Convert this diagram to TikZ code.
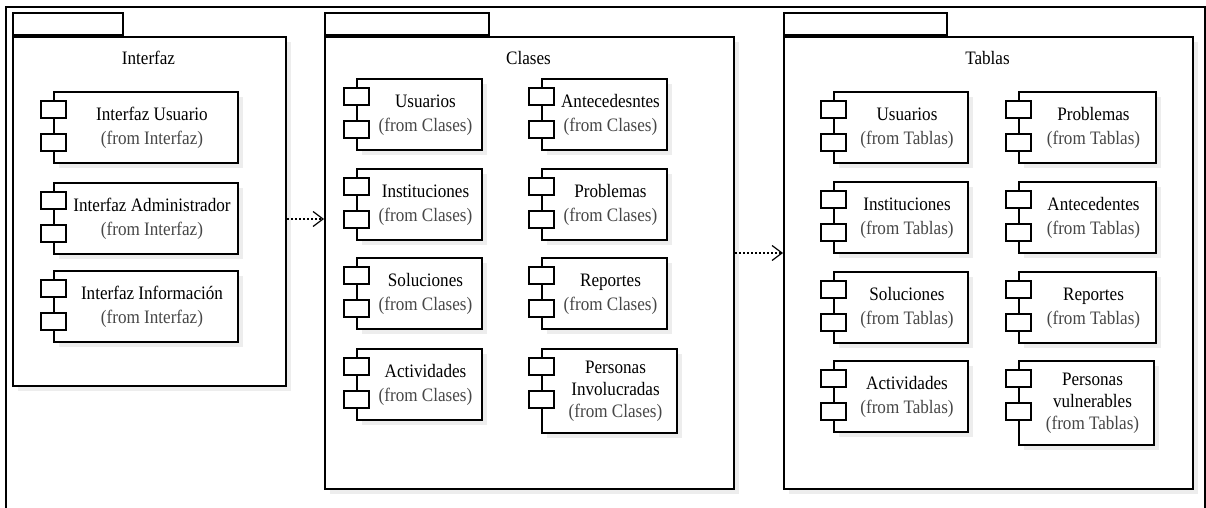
\documentclass[tikz,border=0pt]{standalone}
\usepackage{fontspec}
\usepackage{graphicx}
\setmainfont{Liberation Serif}
\usetikzlibrary{arrows.meta,shadows}

\definecolor{fromgray}{gray}{0.28}

% narrow setting of one text line
\newcommand\sq[1]{\scalebox{0.9}[1]{#1}}
\newcommand\fromp[1]{\sq{\color{fromgray}(from #1)}}

% a component: name, left, top, width, height, label lines
\newcommand\umlcomp[6]{%
  \node[compbox, minimum width=#4pt, minimum height=#5pt, anchor=north west] (#1) at (#2,#3)
    {\begin{tabular}{@{\hspace{12pt}}c@{}}#6\end{tabular}};
  \draw[port] ([shift={(-12pt,-10pt)}]#1.north west) rectangle ++(25pt,-17pt);
  \draw[port] ([shift={(-12pt,-43pt)}]#1.north west) rectangle ++(25pt,-17pt);
}

\begin{document}
\begin{tikzpicture}[x=1pt,y=-1pt,
  every node/.style={font=\fontsize{19}{24}\selectfont},
  lw/.style={line width=2pt},
  softshadow/.style={drop shadow={shadow xshift=5pt, shadow yshift=-5pt, opacity=0.07, fill=black}},
  pkgbody/.style={draw, lw, fill=white, inner sep=0pt, softshadow},
  pkgtab/.style={draw, lw, fill=white, inner sep=0pt, minimum height=22pt},
  compbox/.style={draw, lw, fill=white, inner sep=0pt, align=center, softshadow},
  port/.style={draw, lw, fill=white},
  dep/.style={line width=2pt, dotted, -{Straight Barb[length=10pt, width=15pt, line width=1.2pt]}},
  frame/.style={line width=2pt}
]
\useasboundingbox (0,0) rectangle (1206,508);

% outer frame (continues below the lower edge)
\draw[frame] (6,520) -- (6,7) -- (1205,7) -- (1205,520);

% packages
\node[pkgbody, minimum width=273pt, minimum height=349pt, anchor=north west] (ipkg) at (12,36) {};
\node[pkgtab, minimum width=110pt, anchor=south west] (itab) at (ipkg.north west) {};
\node (ititle) at (148.5,58) {\sq{Interfaz}};

\node[pkgbody, minimum width=409pt, minimum height=452pt, anchor=north west] (cpkg) at (324,36) {};
\node[pkgtab, minimum width=164pt, anchor=south west] (ctab) at (cpkg.north west) {};
\node (ctitle) at (528.5,58) {\sq{Clases}};

\node[pkgbody, minimum width=409pt, minimum height=452pt, anchor=north west] (tpkg) at (783,36) {};
\node[pkgtab, minimum width=163pt, anchor=south west] (ttab) at (tpkg.north west) {};
\node (ttitle) at (987.5,58) {\sq{Tablas}};

% Interfaz components
\umlcomp{iu}{53}{91}{184}{71}{\sq{Interfaz Usuario}\\ \fromp{Interfaz}}
\umlcomp{ia}{53}{182}{184}{71}{\sq{Interfaz Administrador}\\ \fromp{Interfaz}}
\umlcomp{ii}{53}{270}{184}{71}{\sq{Interfaz Información}\\ \fromp{Interfaz}}

% Clases components
\umlcomp{cu}{356}{78}{125}{71}{\sq{Usuarios}\\ \fromp{Clases}}
\umlcomp{ci}{356}{168}{125}{71}{\sq{Instituciones}\\ \fromp{Clases}}
\umlcomp{cs}{356}{257}{125}{71}{\sq{Soluciones}\\ \fromp{Clases}}
\umlcomp{cact}{356}{348}{125}{71}{\sq{Actividades}\\ \fromp{Clases}}
\umlcomp{cant}{541}{78}{125}{71}{\sq{Antecedesntes}\\ \fromp{Clases}}
\umlcomp{cp}{541}{168}{125}{71}{\sq{Problemas}\\ \fromp{Clases}}
\umlcomp{cr}{541}{257}{125}{71}{\sq{Reportes}\\ \fromp{Clases}}
\umlcomp{cpi}{541}{348}{135}{84}{\sq{Personas}\\[-2pt] \sq{Involucradas}\\[-2pt] \fromp{Clases}}

% Tablas components
\umlcomp{tu}{833}{91}{134}{71}{\sq{Usuarios}\\ \fromp{Tablas}}
\umlcomp{ti}{833}{181}{134}{71}{\sq{Instituciones}\\ \fromp{Tablas}}
\umlcomp{ts}{833}{271}{134}{71}{\sq{Soluciones}\\ \fromp{Tablas}}
\umlcomp{tact}{833}{360}{134}{71}{\sq{Actividades}\\ \fromp{Tablas}}
\umlcomp{tp}{1018}{91}{137}{71}{\sq{Problemas}\\ \fromp{Tablas}}
\umlcomp{tant}{1018}{181}{137}{71}{\sq{Antecedentes}\\ \fromp{Tablas}}
\umlcomp{tr}{1018}{271}{137}{71}{\sq{Reportes}\\ \fromp{Tablas}}
\umlcomp{tpv}{1018}{360}{135}{84}{\sq{Personas}\\[-2pt] \sq{vulnerables}\\[-2pt] \fromp{Tablas}}

% dependencies between packages
\coordinate (d1) at ([yshift=-7.5pt]ipkg.east);
\draw[dep] (d1) -- (d1 -| cpkg.west);
\coordinate (d2) at ([yshift=10pt]cpkg.east);
\draw[dep] (d2) -- (d2 -| tpkg.west);
\end{tikzpicture}
\end{document}
